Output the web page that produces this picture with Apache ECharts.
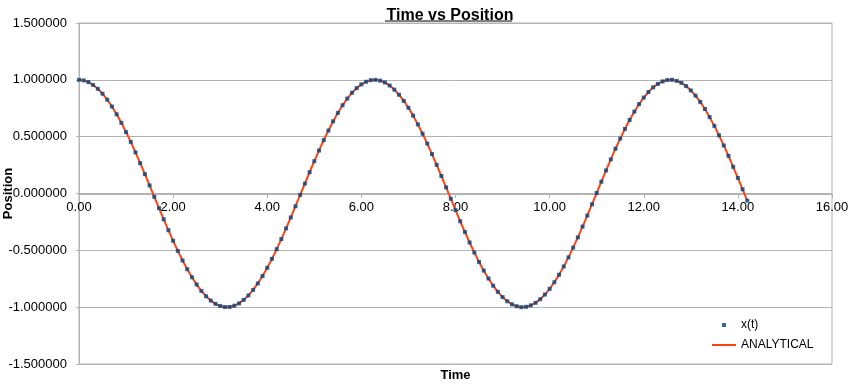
<!DOCTYPE html>
<html>
<head>
<meta charset="utf-8">
<script src="https://cdn.jsdelivr.net/npm/echarts@6/dist/echarts.min.js"></script>
<style>html,body{margin:0;padding:0;background:#fff}#c{width:852px;height:385px}</style>
</head>
<body>
<div id="c"></div>
<script>
var times = [0.0,0.1,0.2,0.3,0.4,0.5,0.6,0.7,0.8,0.9,1.0,1.1,1.2,1.3,1.4,1.5,1.6,1.7,1.8,1.9,
2.0,2.1,2.2,2.3,2.4,2.5,2.6,2.7,2.8,2.9,3.0,3.1,3.2,3.3,3.4,3.5,3.6,3.7,3.8,3.9,
4.0,4.1,4.2,4.3,4.4,4.5,4.6,4.7,4.8,4.9,5.0,5.1,5.2,5.3,5.4,5.5,5.6,5.7,5.8,5.9,
6.0,6.1,6.2,6.3,6.4,6.5,6.6,6.7,6.8,6.9,7.0,7.1,7.2,7.3,7.4,7.5,7.6,7.7,7.8,7.9,
8.0,8.1,8.2,8.3,8.4,8.5,8.6,8.7,8.8,8.9,9.0,9.1,9.2,9.3,9.4,9.5,9.6,9.7,9.8,9.9,
10.0,10.1,10.2,10.3,10.4,10.5,10.6,10.7,10.8,10.9,11.0,11.1,11.2,11.3,11.4,11.5,11.6,11.7,11.8,11.9,
12.0,12.1,12.2,12.3,12.4,12.5,12.6,12.7,12.8,12.9,13.0,13.1,13.2,13.3,13.4,13.5,13.6,13.7,13.8,13.9,
14.0,14.1,14.2];
var xt = [1.000,0.995,0.980,0.955,0.921,0.878,0.825,0.765,0.697,0.622,
0.540,0.454,0.362,0.267,0.170,0.071,-0.029,-0.129,-0.227,-0.323,
-0.416,-0.505,-0.589,-0.666,-0.737,-0.801,-0.857,-0.904,-0.942,-0.971,
-0.990,-0.999,-0.998,-0.987,-0.967,-0.936,-0.897,-0.848,-0.791,-0.726,
-0.654,-0.575,-0.490,-0.401,-0.307,-0.211,-0.112,-0.012,0.087,0.187,
0.284,0.378,0.469,0.554,0.635,0.709,0.776,0.835,0.886,0.927,
0.960,0.983,0.997,1.000,0.993,0.977,0.950,0.914,0.869,0.815,
0.754,0.685,0.608,0.526,0.439,0.347,0.252,0.154,0.054,-0.046,
-0.146,-0.244,-0.339,-0.431,-0.519,-0.602,-0.678,-0.748,-0.811,-0.865,
-0.911,-0.948,-0.975,-0.992,-1.000,-0.997,-0.984,-0.962,-0.930,-0.889,
-0.839,-0.781,-0.715,-0.642,-0.562,-0.476,-0.386,-0.291,-0.194,-0.095,
0.004,0.104,0.203,0.300,0.394,0.483,0.568,0.647,0.720,0.786,
0.844,0.893,0.934,0.964,0.986,0.998,1.000,0.991,0.973,0.945,
0.907,0.861,0.806,0.743,0.672,0.595,0.512,0.423,0.331,0.235,
0.137,0.037,-0.063];
var analytical = xt.slice();
var seriesNames = ['x(t)', 'ANALYTICAL'];
var title = 'Time vs Position';
var xName = 'Time', yName = 'Position';

function pairs(ts, vs){ var o=[]; for(var i=0;i<ts.length;i++) o.push([ts[i], vs[i]]); return o; }

var font = 'Liberation Sans, Arial, sans-serif';
var gridCol = '#b3b3b3';
var dotCol = '#004586', lineCol = '#ff420e';
var chart = echarts.init(document.getElementById('c'), null, {renderer:'canvas'});
chart.setOption({
  animation:false,
  textStyle:{fontFamily:font},
  title:{text:title, left:445, top:3, textAlign:'center',
    textStyle:{fontFamily:font, fontSize:16, fontWeight:'bold', color:'#000'}},
  graphic:[{type:'line', shape:{x1:385,y1:21,x2:512,y2:21}, style:{stroke:'#000', lineWidth:1}}],
  grid:{left:79, right:20, top:23, bottom:21, show:true, borderColor:gridCol, borderWidth:1,
    containLabel:false, outerBoundsMode:'none'},
  legend:{
    data:[
      {name:seriesNames[0], icon:'path://M0,0 M24,4 M10,0h4v4h-4z', itemStyle:{color:dotCol}},
      {name:seriesNames[1], icon:'path://M0,0 M24,4 M0,1h24v2h-24z', itemStyle:{color:lineCol}}
    ],
    orient:'vertical', left:712, top:319, padding:0, itemWidth:24, itemHeight:4, itemGap:8,
    textStyle:{fontFamily:font, fontSize:12, color:'#000'}
  },
  xAxis:{type:'value', min:0, max:16, interval:2, position:'bottom', offset:-170,
    name:xName, nameLocation:'middle', nameGap:175, nameMoveOverlap:false,
    nameTextStyle:{fontFamily:font, fontSize:13, fontWeight:'bold', color:'#000'},
    axisLine:{show:true, onZero:false, lineStyle:{color:gridCol}},
    axisTick:{show:true, length:4, lineStyle:{color:gridCol}},
    axisLabel:{margin:7, fontFamily:font, fontSize:13, color:'#000', formatter:function(v){return v.toFixed(2);}},
    splitLine:{show:false}},
  yAxis:{type:'value', min:-1.5, max:1.5, interval:0.5,
    name:yName, nameLocation:'middle', nameGap:64, nameRotate:90, nameMoveOverlap:false,
    nameTextStyle:{fontFamily:font, fontSize:13, fontWeight:'bold', color:'#000'},
    axisLine:{show:true, onZero:false, lineStyle:{color:gridCol}},
    axisTick:{show:true, length:3, lineStyle:{color:gridCol}},
    axisLabel:{margin:12, fontFamily:font, fontSize:13, color:'#000', formatter:function(v){return v.toFixed(6);}},
    splitLine:{show:true, lineStyle:{color:gridCol, width:1}}},
  series:[
    {name:seriesNames[1], type:'line', data:pairs(times, analytical), showSymbol:false, symbol:'none',
      smooth:false, lineStyle:{color:lineCol, width:2}, itemStyle:{color:lineCol}, z:2},
    {name:seriesNames[0], type:'scatter', data:pairs(times, xt), symbol:'rect', symbolSize:4,
      itemStyle:{color:dotCol}, z:3}
  ]
});
</script>
</body>
</html>
